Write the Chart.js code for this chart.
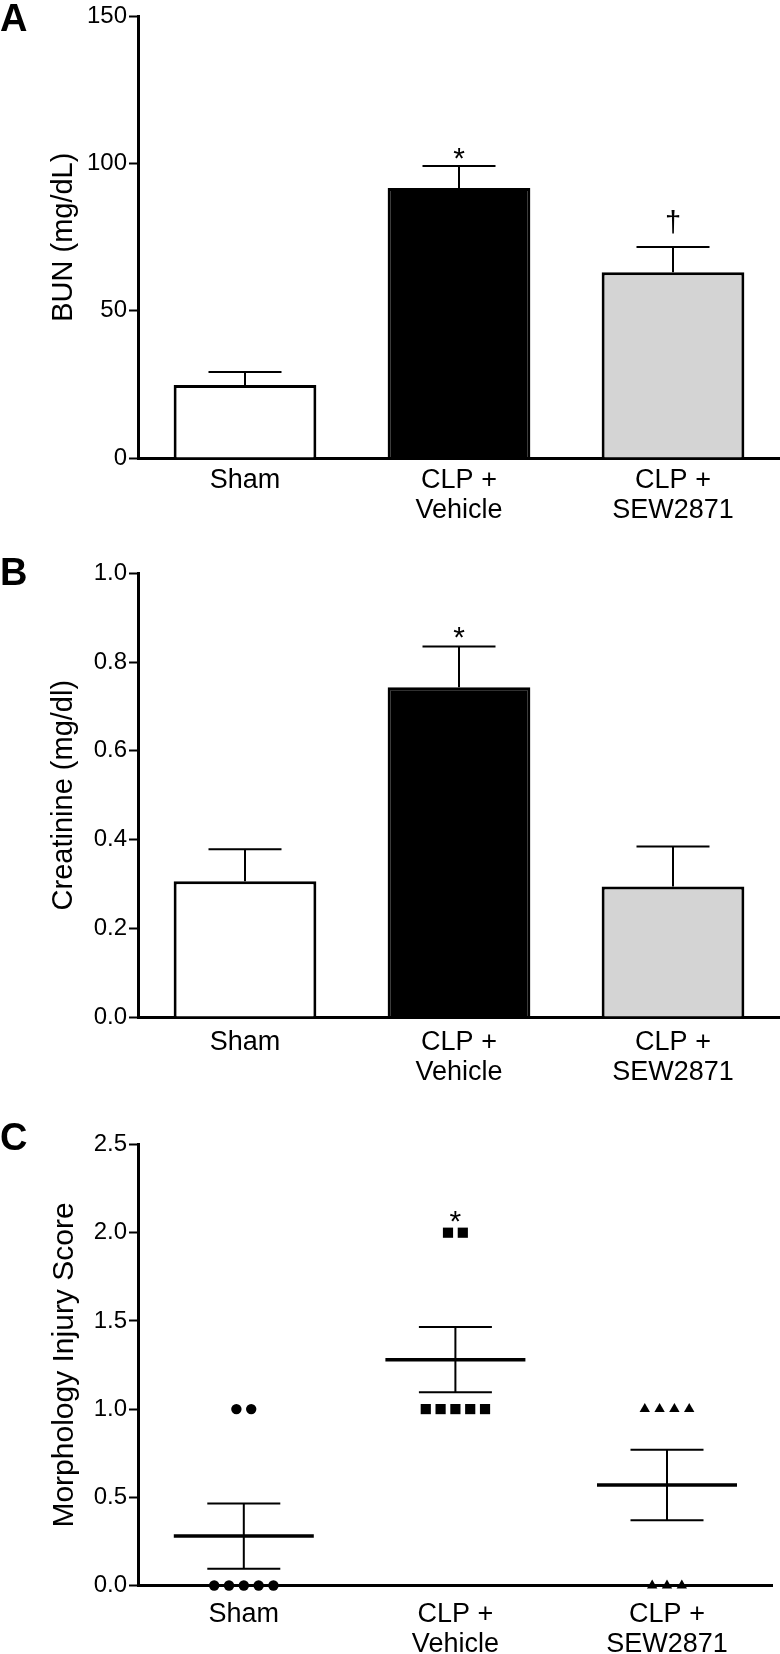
<!DOCTYPE html>
<html>
<head>
<meta charset="utf-8">
<script src="https://cdn.jsdelivr.net/npm/chart.js@4.4.0/dist/chart.umd.min.js"></script>
<style>
  body { margin: 0; background: #fff; }
  #wrap { position: relative; width: 780px; height: 1654px; overflow: hidden; }
  canvas { position: absolute; left: 0; }
  .tag { position: absolute; left: 0; font: bold 38px "Liberation Sans", Arial, sans-serif; line-height: 1; }
</style>
</head>
<body>
<div id="wrap">
  <canvas id="bun" width="780" height="540" style="top:0"></canvas>
  <canvas id="creat" width="780" height="560" style="top:540px"></canvas>
  <canvas id="score" width="780" height="554" style="top:1100px"></canvas>
  <div class="tag" style="top:-1px">A</div>
  <div class="tag" style="top:553px">B</div>
  <div class="tag" style="top:1118px">C</div>
</div>
<script>
// groups on the x axis
const groups = ['Sham', ['CLP +', 'Vehicle'], ['CLP +', 'SEW2871']];

// A: BUN, mean and SEM (upper whisker only)
const bunMean = [24.8, 91.7, 63.1];
const bunSem = [4.4, 7.5, 8.6];
const bunSig = ['', '*', '\u2020'];
const bunSigAt = [null, 104.5, 79.6];

// B: creatinine
const creatMean = [0.306, 0.743, 0.294];
const creatSem = [0.072, 0.092, 0.090];
const creatSig = ['', '*', ''];
const creatSigAt = [null, 0.872, null];

// C: morphology injury score, individual animals
const scoreSham = [0, 0, 0, 0, 0, 1, 1];
const scoreVehicle = [1, 1, 1, 1, 1, 2, 2];
const scoreSew = [0, 0, 0, 1, 1, 1, 1];
const scoreMean = [0.28, 1.28, 0.57];
const scoreSem = [0.185, 0.185, 0.20];
const scoreSig = ['', '*', ''];
const scoreSigAt = [null, 2.11, null];

const FONT = '"Liberation Sans", Arial, Helvetica, sans-serif';
Chart.defaults.font.family = FONT;
Chart.defaults.color = '#000';

// whiskers, mean lines and significance marks
const errorBars = {
  id: 'errorBars',
  afterDatasetsDraw(chart, args, opts) {
    const { ctx, scales: { x, y } } = chart;
    ctx.save();
    ctx.strokeStyle = '#000';
    ctx.fillStyle = '#000';
    opts.mean.forEach((m, i) => {
      const px = x.getPixelForValue(i);
      const top = y.getPixelForValue(m + opts.sem[i]);
      const low = y.getPixelForValue(opts.both ? m - opts.sem[i] : m);
      ctx.lineWidth = 2;
      ctx.beginPath();
      ctx.moveTo(px, low);
      ctx.lineTo(px, top);
      ctx.moveTo(px - opts.cap, top);
      ctx.lineTo(px + opts.cap, top);
      if (opts.both) {
        ctx.moveTo(px - opts.cap, low);
        ctx.lineTo(px + opts.cap, low);
      }
      ctx.stroke();
      if (opts.meanLine) {
        const my = y.getPixelForValue(m);
        ctx.lineWidth = 3.5;
        ctx.beginPath();
        ctx.moveTo(px - opts.meanLine, my);
        ctx.lineTo(px + opts.meanLine, my);
        ctx.stroke();
      }
    });
    ctx.textAlign = 'center';
    ctx.textBaseline = 'alphabetic';
    opts.sig.forEach((s, i) => {
      if (!s) return;
      const size = s === '*' ? 30 : 29;
      ctx.font = size + 'px ' + FONT;
      const cy = y.getPixelForValue(opts.sigAt[i]);
      ctx.fillText(s, x.getPixelForValue(i), cy + (s === '*' ? 0.58 : 0.28) * size);
    });
    ctx.restore();
  }
};

function yAxis(min, max, step, title, digits, titleSize) {
  return {
    min: min, max: max,
    afterFit(scale) { scale.width = 138; },
    ticks: {
      stepSize: step, padding: 2, font: { size: 24 },
      callback: v => v.toFixed(digits)
    },
    grid: { drawOnChartArea: false, drawTicks: true, tickLength: 9, tickWidth: 2, tickColor: '#000' },
    border: { display: true, color: '#000', width: 3 },
    title: { display: true, text: title, font: { size: titleSize }, padding: { top: 47, bottom: 0 } }
  };
}

function xTicks(pad) {
  return { padding: pad, font: { size: 27, lineHeight: 1.1 } };
}

function barPanel(id, mean, sem, sig, sigAt, yOpts, top, bottomH, pad) {
  new Chart(document.getElementById(id), {
    type: 'bar',
    data: {
      labels: groups,
      datasets: [{
        data: mean,
        backgroundColor: ['#ffffff', '#000000', '#d4d4d4'],
        borderColor: '#000',
        borderWidth: 3,
        barPercentage: 0.667,
        categoryPercentage: 1
      }]
    },
    options: {
      responsive: false,
      animation: false,
      layout: { padding: { top: top, left: 0, right: 0, bottom: 0 } },
      plugins: {
        legend: { display: false },
        tooltip: { enabled: false },
        errorBars: { mean: mean, sem: sem, cap: 36.5, both: false, sig: sig, sigAt: sigAt }
      },
      scales: {
        x: {
          afterFit(scale) { scale.height = bottomH; },
          grid: { display: false, drawTicks: false },
          border: { display: true, color: '#000', width: 3 },
          ticks: xTicks(pad)
        },
        y: yOpts
      }
    },
    plugins: [errorBars]
  });
}

barPanel('bun', bunMean, bunSem, bunSig, bunSigAt,
  yAxis(0, 150, 50, 'BUN (mg/dL)', 0, 29), 16, 82, 8);
barPanel('creat', creatMean, creatSem, creatSig, creatSigAt,
  yAxis(0, 1.0, 0.2, 'Creatinine (mg/dl)', 1, 29), 33.3, 83, 11);

// spread tied scores side by side around the group centre
const STEP = 0.07;
function spread(values, centre) {
  const counts = {}, seen = {};
  values.forEach(v => { counts[v] = (counts[v] || 0) + 1; });
  return values.map(v => {
    const k = seen[v] || 0;
    seen[v] = k + 1;
    return { x: centre + (k - (counts[v] - 1) / 2) * STEP, y: v };
  });
}

function pointSet(values, centre, style, r) {
  return {
    data: spread(values, centre),
    pointStyle: style,
    pointRadius: r,
    pointBorderWidth: 0,
    backgroundColor: '#000',
    borderColor: '#000',
    showLine: false,
    clip: false
  };
}

const yC = yAxis(0, 2.5, 0.5, 'Morphology Injury Score', 1, 30);
new Chart(document.getElementById('score'), {
  type: 'scatter',
  data: {
    datasets: [
      pointSet(scoreSham, 0, 'circle', 5.2),
      pointSet(scoreVehicle, 1, 'rect', 7.2),
      pointSet(scoreSew, 2, 'triangle', 6)
    ]
  },
  options: {
    responsive: false,
    animation: false,
    layout: { padding: { top: 44.5, left: 0, right: 0, bottom: 0 } },
    plugins: {
      legend: { display: false },
      tooltip: { enabled: false },
      errorBars: { mean: scoreMean, sem: scoreSem, cap: 36.5, both: true, meanLine: 70, sig: scoreSig, sigAt: scoreSigAt }
    },
    scales: {
      x: {
        type: 'linear', min: -0.5, max: 2.5,
        afterFit(scale) { scale.height = 68.5; },
        afterBuildTicks(scale) { scale.ticks = [{ value: 0 }, { value: 1 }, { value: 2 }]; },
        grid: { display: false, drawTicks: false },
        border: { display: true, color: '#000', width: 3 },
        ticks: Object.assign(xTicks(14.5), { callback: v => groups[v] })
      },
      y: yC
    }
  },
  plugins: [errorBars]
});
</script>
</body>
</html>
